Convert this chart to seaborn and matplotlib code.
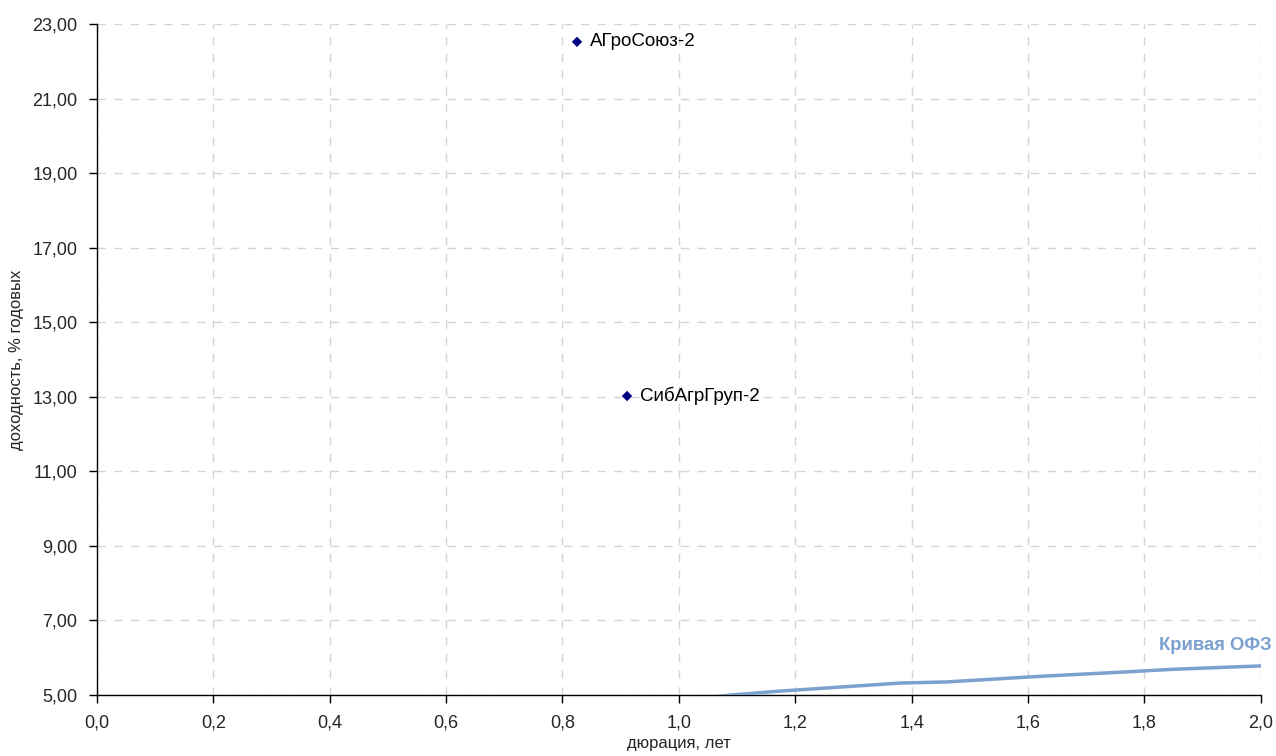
import matplotlib
matplotlib.use("Agg")
import matplotlib.pyplot as plt
import seaborn as sns
import numpy as np
import pandas as pd
from matplotlib.ticker import FuncFormatter

# Data
bond_names = ["АГроСоюз-2", "СибАгрГруп-2"]
bond_duration = [0.825, 0.911]
bond_yield = [22.52, 13.02]

ofz_duration = [0.95, 1.09, 1.17, 1.38, 1.46, 1.62, 1.77, 1.85, 2.00]
ofz_yield = [4.78, 5.00, 5.10, 5.32, 5.35, 5.50, 5.62, 5.69, 5.78]

x_ticks = [0.0, 0.2, 0.4, 0.6, 0.8, 1.0, 1.2, 1.4, 1.6, 1.8, 2.0]
y_ticks = [5, 7, 9, 11, 13, 15, 17, 19, 21, 23]

sns.set_style("white")
plt.rcParams['font.family'] = ['Liberation Sans', 'DejaVu Sans']

fig = plt.figure(figsize=(12.76, 7.56), dpi=100)
ax = fig.add_axes([0.076, 0.0807, 0.912, 0.8876])

bonds = pd.DataFrame({"name": bond_names, "x": bond_duration, "y": bond_yield})
ofz = pd.DataFrame({"x": ofz_duration, "y": ofz_yield})

sns.lineplot(data=ofz, x="x", y="y", ax=ax, color="#7ba1cf", linewidth=2.5, zorder=3)
sns.scatterplot(data=bonds, x="x", y="y", ax=ax, marker="D", color="#000080",
                s=28, edgecolor="none", zorder=4)
for n, x, y in zip(bond_names, bond_duration, bond_yield):
    ax.annotate(n, (x, y), xytext=(9, 0), textcoords="offset points",
                va="center", ha="left", fontsize=13.5, color="black")

ax.text(1.826, 6.34, "Кривая ОФЗ", color="#7ba1cf", fontsize=13.3, fontweight="bold",
        ha="left", va="center", clip_on=False)

ax.set_xlim(0, 2.0)
ax.set_ylim(5, 23)
ax.set_xticks(x_ticks)
ax.set_yticks(y_ticks)
ax.xaxis.set_major_formatter(FuncFormatter(lambda v, p: f"{v:.1f}".replace(".", ",")))
ax.yaxis.set_major_formatter(FuncFormatter(lambda v, p: f"{v:.2f}".replace(".", ",")))
ax.tick_params(axis="both", labelsize=13, direction="out", length=6, width=1, color="black", pad=8)
ax.tick_params(left=True, bottom=True)

ax.grid(True, linestyle=(0, (6, 6)), color="#d4d4d4", linewidth=1)
for s in ["top", "right"]:
    ax.spines[s].set_visible(False)
for s in ["left", "bottom"]:
    ax.spines[s].set_color("black")
    ax.spines[s].set_linewidth(1)

ax.set_xlabel("дюрация, лет", fontsize=12, labelpad=3)
ax.set_ylabel("доходность, % годовых", fontsize=12, labelpad=6)

fig.savefig("out.png", dpi=100)
